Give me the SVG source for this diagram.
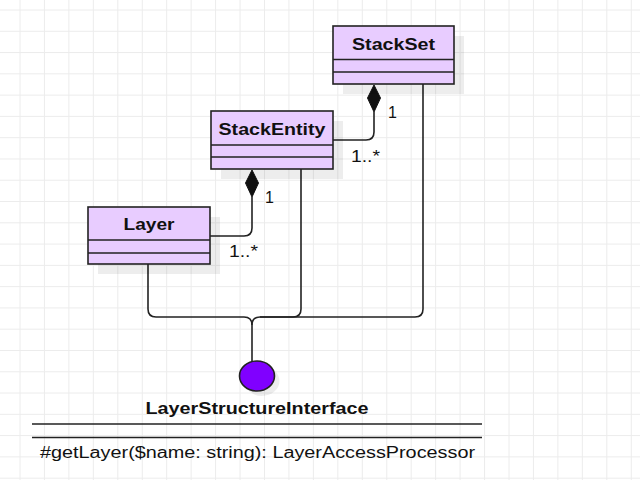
<svg xmlns="http://www.w3.org/2000/svg" width="640" height="480" viewBox="0 0 640 480">
<defs>
<style>
.grid{stroke:#ececec;stroke-width:1;fill:none}
.box{fill:#e8ccff;stroke:#222;stroke-width:1.6}
.sep{stroke:#222;stroke-width:1.6}
.shadow{fill:#000;fill-opacity:0.07}
.title{font-family:"Liberation Sans",Arial,sans-serif;font-weight:bold;font-size:17px;fill:#111;text-anchor:middle}
.lbl{font-family:"Liberation Sans",Arial,sans-serif;font-size:16px;fill:#111}
.conn{fill:none;stroke:#222;stroke-width:1.6}
.dia{fill:#111;stroke:#111;stroke-width:1}
</style>
</defs>
<rect width="640" height="480" fill="#fff"/>
<path class="grid" d="M20 0V480M44.45 0V480M68.9 0V480M93.35 0V480M117.8 0V480M142.25 0V480M166.7 0V480M191.15 0V480M215.6 0V480M240.05 0V480M264.5 0V480M288.95 0V480M313.4 0V480M337.85 0V480M362.3 0V480M386.75 0V480M411.2 0V480M435.65 0V480M460.1 0V480M484.55 0V480M509 0V480M533.45 0V480M557.9 0V480M582.35 0V480M606.8 0V480M631.25 0V480M0 10H640M0 31.28H640M0 52.56H640M0 73.84H640M0 95.12H640M0 116.4H640M0 137.68H640M0 158.96H640M0 180.24H640M0 201.52H640M0 222.8H640M0 244.08H640M0 265.36H640M0 286.64H640M0 307.92H640M0 329.2H640M0 350.48H640M0 371.76H640M0 393.04H640M0 414.32H640M0 435.6H640M0 456.88H640M0 478.16H640"/>

<g id="connectors">
<path class="conn" d="M333 140H366Q374 140 374 132V112"/>
<polygon class="dia" points="374,85 380.5,98 374,112 367.5,98"/>
<path class="conn" d="M210 236H244Q252 236 252 228V197"/>
<polygon class="dia" points="252,170 258.5,183 252,197 245.5,183"/>
<path class="conn" d="M148 264V309Q148 317 156 317H244Q252 317 252 325"/>
<path class="conn" d="M301 169V309Q301 317 293 317H260Q252 317 252 325"/>
<path class="conn" d="M423 84V309Q423 317 415 317H260"/>
<path class="conn" d="M252 325V362"/>
<text class="lbl" x="388" y="118">1</text>
<text class="lbl" x="351" y="161.5" textLength="29" lengthAdjust="spacingAndGlyphs">1..*</text>
<text class="lbl" x="265" y="203">1</text>
<text class="lbl" x="229" y="256.5" textLength="29" lengthAdjust="spacingAndGlyphs">1..*</text>
</g>

<g id="StackSet">
<rect class="shadow" x="343" y="36" width="121" height="58"/>
<rect class="box" x="333" y="26" width="121" height="58"/>
<line class="sep" x1="333" y1="59.5" x2="454" y2="59.5"/>
<line class="sep" x1="333" y1="72" x2="454" y2="72"/>
<text class="title" x="393.5" y="49.5" textLength="83" lengthAdjust="spacingAndGlyphs">StackSet</text>
</g>

<g id="StackEntity">
<rect class="shadow" x="221" y="121" width="122" height="58"/>
<rect class="box" x="211" y="111" width="122" height="58"/>
<line class="sep" x1="211" y1="145" x2="333" y2="145"/>
<line class="sep" x1="211" y1="157" x2="333" y2="157"/>
<text class="title" x="272" y="134.5" textLength="107" lengthAdjust="spacingAndGlyphs">StackEntity</text>
</g>

<g id="Layer">
<rect class="shadow" x="98" y="217" width="122" height="57"/>
<rect class="box" x="88" y="207" width="122" height="57"/>
<line class="sep" x1="88" y1="240" x2="210" y2="240"/>
<line class="sep" x1="88" y1="253" x2="210" y2="253"/>
<text class="title" x="149" y="230" textLength="51" lengthAdjust="spacingAndGlyphs">Layer</text>
</g>

<g id="LayerStructureInterface">
<ellipse class="shadow" cx="262" cy="381" rx="17.5" ry="15"/>
<ellipse cx="257" cy="376" rx="17.5" ry="15" fill="#8000ff" stroke="#222" stroke-width="1.6"/>
<text class="title" x="257" y="413.5" textLength="223" lengthAdjust="spacingAndGlyphs">LayerStructureInterface</text>
<line class="sep" x1="32" y1="424" x2="482" y2="424"/>
<line class="sep" x1="32" y1="437.5" x2="482" y2="437.5"/>
<text class="lbl" x="40" y="457.5" font-size="17" textLength="435" lengthAdjust="spacingAndGlyphs">#getLayer($name: string): LayerAccessProcessor</text>
</g>
</svg>
